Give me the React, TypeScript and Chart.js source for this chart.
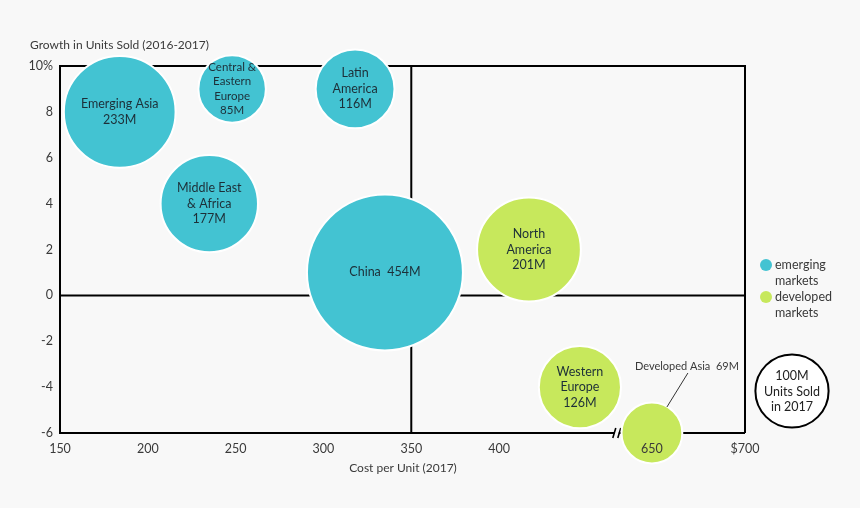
import React, { useEffect, useRef } from "react";
import { Chart, registerables } from "chart.js";

Chart.register(...registerables);

const CATEGORIES = [
  "Emerging Asia",
  "Central & Eastern Europe",
  "Latin America",
  "Middle East & Africa",
  "China",
  "North America",
  "Western Europe",
  "Developed Asia",
];
const COST = [184, 248, 318, 235, 335, 417, 446, 650];
const GROWTH = [8, 9, 9, 4, 1, 2, -4, -6];
const UNITS = [233, 85, 116, 177, 454, 201, 126, 69];
const MARKET = ["emerging", "emerging", "emerging", "emerging", "emerging", "developed", "developed", "developed"];
const BUBBLE_LABELS = [
  ["Emerging Asia", "233M"],
  ["Central &", "Eastern", "Europe", "85M"],
  ["Latin", "America", "116M"],
  ["Middle East", "& Africa", "177M"],
  ["China  454M"],
  ["North", "America", "201M"],
  ["Western", "Europe", "126M"],
  [],
];
const CALLOUT_LABEL = "Developed Asia  69M";
const X_TICK_VALUES = [150, 200, 250, 300, 350, 400, 650, 700];
const X_TICK_LABELS = ["150", "200", "250", "300", "350", "400", "650", "$700"];
const Y_TICKS = [-6, -4, -2, 0, 2, 4, 6, 8, 10];
const SIZE_REFERENCE = 100;
const SERIES = [
  { key: "emerging", label: "emerging markets", lines: ["emerging", "markets"] },
  { key: "developed", label: "developed markets", lines: ["developed", "markets"] },
];

const COLORS: Record<string, string> = { emerging: "#43C3D2", developed: "#C7E85C" };
const FONT = "Lato, 'Open Sans', sans-serif";
const TEXT = "#3a3a3a";
const RADIUS_K = 3.66;
const X_BREAK = 467; // axis-space position of the break marker

// axis break: values beyond the gap are shifted left
const breakMap = (v: number) => (v <= 450 ? v : 487 + (v - 650) * 1.06);

const overlay = {
  id: "overlay",
  beforeDatasetsDraw(chart: any) {
    const { ctx, chartArea: a, scales } = chart;
    const x = scales.x, y = scales.y;
    ctx.save();
    ctx.strokeStyle = "#000";
    ctx.lineWidth = 2;
    ctx.beginPath();
    ctx.moveTo(a.left, a.bottom);
    ctx.lineTo(a.left, a.top);
    ctx.lineTo(a.right, a.top);
    ctx.lineTo(a.right, a.bottom);
    const bx = x.getPixelForValue(X_BREAK);
    ctx.moveTo(a.right, a.bottom);
    ctx.lineTo(bx + 2, a.bottom);
    ctx.moveTo(bx - 2, a.bottom);
    ctx.lineTo(a.left - 1, a.bottom);
    const cx = x.getPixelForValue(350);
    const cy = y.getPixelForValue(0);
    ctx.moveTo(cx, a.top);
    ctx.lineTo(cx, a.bottom);
    ctx.moveTo(a.left, cy);
    ctx.lineTo(a.right, cy);
    ctx.stroke();
    ctx.beginPath();
    ctx.lineWidth = 1.6;
    ctx.moveTo(bx - 4, a.bottom + 5);
    ctx.lineTo(bx - 1, a.bottom - 5);
    ctx.moveTo(bx + 1, a.bottom + 5);
    ctx.lineTo(bx + 4, a.bottom - 5);
    ctx.stroke();
    ctx.restore();
  },
  afterDatasetsDraw(chart: any) {
    const { ctx } = chart;
    ctx.save();
    ctx.fillStyle = "#1d2f38";
    ctx.textAlign = "center";
    ctx.textBaseline = "middle";
    chart.data.datasets.forEach((ds: any, di: number) => {
      const meta = chart.getDatasetMeta(di);
      meta.data.forEach((el: any, i: number) => {
        const idx = ds.indices[i];
        const lines = BUBBLE_LABELS[idx];
        const small = lines.length >= 4;
        const fs = small ? 11.5 : 12.5;
        const lh = small ? 14.3 : 15.5;
        ctx.font = `${fs}px ${FONT}`;
        lines.forEach((t: string, k: number) => {
          ctx.fillText(t, el.x, el.y + (k - (lines.length - 1) / 2) * lh);
        });
        if (lines.length === 0) {
          ctx.strokeStyle = "#333";
          ctx.lineWidth = 1;
          ctx.beginPath();
          ctx.moveTo(el.x + 15, el.y - 26);
          ctx.lineTo(el.x + 36, el.y - 60);
          ctx.stroke();
          ctx.fillStyle = TEXT;
          ctx.font = `11px ${FONT}`;
          ctx.fillText(CALLOUT_LABEL, el.x + 35, el.y - 67);
          ctx.fillStyle = "#1d2f38";
        }
      });
    });
    ctx.fillStyle = TEXT;
    ctx.font = `12px ${FONT}`;
    ctx.textAlign = "left";
    ctx.fillText("Growth in Units Sold (2016-2017)", 30, 45);
    ctx.textAlign = "center";
    ctx.fillText("Cost per Unit (2017)", 403, 468);
    SERIES.forEach((s, k) => {
      const ly = 265 + k * 32;
      ctx.fillStyle = COLORS[s.key];
      ctx.beginPath();
      ctx.arc(766, ly, 6, 0, Math.PI * 2);
      ctx.fill();
      ctx.fillStyle = TEXT;
      ctx.textAlign = "left";
      ctx.font = `12.5px ${FONT}`;
      s.lines.forEach((t, j) => ctx.fillText(t, 775, ly + j * 16));
    });
    const r = RADIUS_K * Math.sqrt(SIZE_REFERENCE);
    ctx.beginPath();
    ctx.arc(792, 391, r, 0, Math.PI * 2);
    ctx.fillStyle = "#fff";
    ctx.fill();
    ctx.strokeStyle = "#000";
    ctx.lineWidth = 2;
    ctx.stroke();
    ctx.fillStyle = "#222";
    ctx.textAlign = "center";
    ctx.font = `12.5px ${FONT}`;
    [`${SIZE_REFERENCE}M`, "Units Sold", "in 2017"].forEach((t, j) => ctx.fillText(t, 792, 376 + j * 15.5));
    ctx.restore();
  },
};

export default function App() {
  const ref = useRef<HTMLCanvasElement>(null);
  useEffect(() => {
    if (!ref.current) return;
    const datasets = SERIES.map((s) => {
      const indices = CATEGORIES.map((_, i) => i).filter((i) => MARKET[i] === s.key);
      return {
        label: s.label,
        indices,
        data: indices.map((i) => ({ x: breakMap(COST[i]), y: GROWTH[i], r: RADIUS_K * Math.sqrt(UNITS[i]) })),
        backgroundColor: COLORS[s.key],
        borderColor: "#ffffff",
        borderWidth: 2,
        clip: false as any,
      };
    });
    const chart = new Chart(ref.current, {
      type: "bubble",
      data: { datasets: datasets as any },
      options: {
        animation: false,
        responsive: true,
        maintainAspectRatio: false,
        events: [],
        layout: { autoPadding: false, padding: { top: 66, right: 115, left: 0, bottom: 0 } },
        plugins: { legend: { display: false }, tooltip: { enabled: false } },
        scales: {
          x: {
            type: "linear",
            min: 150,
            max: breakMap(700),
            grid: { display: false, drawTicks: false },
            border: { display: false },
            afterFit: (s: any) => { s.height = 75; },
            afterBuildTicks: (s: any) => { s.ticks = X_TICK_VALUES.map((v) => ({ value: breakMap(v) })); },
            ticks: {
              z: 1,
              padding: 8,
              color: TEXT,
              font: { family: FONT, size: 12.5 },
              maxRotation: 0,
              autoSkip: false,
              callback: (_v: any, i: number) => X_TICK_LABELS[i],
            },
          },
          y: {
            type: "linear",
            min: -6,
            max: 10,
            grid: { display: false, drawTicks: false },
            border: { display: false },
            afterFit: (s: any) => { s.width = 60; },
            afterBuildTicks: (s: any) => { s.ticks = Y_TICKS.map((v) => ({ value: v })); },
            ticks: {
              padding: 7,
              color: TEXT,
              font: { family: FONT, size: 12.5 },
              callback: (v: any) => (v === 10 ? "10%" : String(v)),
            },
          },
        },
      },
      plugins: [overlay],
    });
    return () => chart.destroy();
  }, []);
  return (
    <div style={{ position: "absolute", left: 0, top: 0, width: 860, height: 508, background: "#F8F8F8" }}>
      <canvas ref={ref} />
    </div>
  );
}
